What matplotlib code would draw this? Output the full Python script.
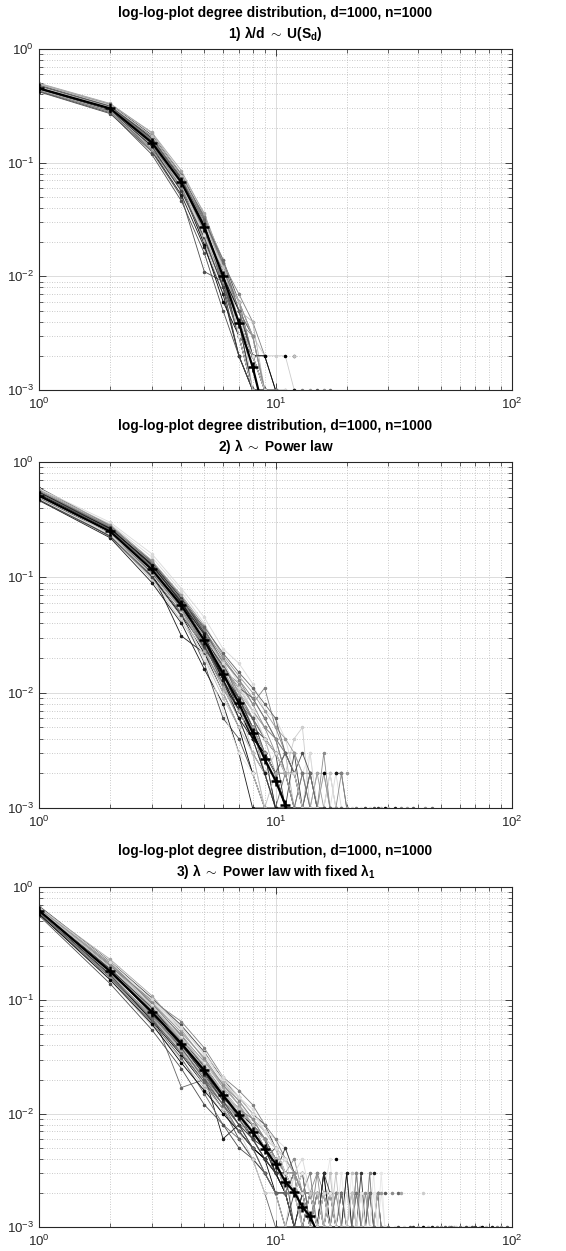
import numpy as np
import matplotlib
matplotlib.use("Agg")
import matplotlib.pyplot as plt
from matplotlib.ticker import LogLocator, NullFormatter

plt.rcParams['font.family'] = ['Liberation Sans', 'DejaVu Sans']
plt.rcParams['mathtext.fontset'] = 'custom'
plt.rcParams['mathtext.rm'] = 'Liberation Sans'
plt.rcParams['mathtext.it'] = 'Liberation Sans:italic'
plt.rcParams['mathtext.bf'] = 'Liberation Sans:bold'

N_NODES = 1000
TITLE_LINE1 = "log-log-plot degree distribution, d=1000, n=1000"
SUBTITLES = [
    r"1) $\mathregular{\lambda}$/d $\sim$ U(S$_{\mathbf{d}}$)",
    r"2) $\mathregular{\lambda}$ $\sim$ Power law",
    r"3) $\mathregular{\lambda}$ $\sim$ Power law with fixed $\mathregular{\lambda}_{\mathbf{1}}$",
]

# mean degree distribution (counts out of 1000), degrees 1,2,3,...
mean1 = [450, 300, 150, 67, 27, 10, 3.9, 1.6, 0.6]
mean2 = [510, 250, 117, 57, 28.4, 14.6, 8.1, 4.5, 2.66, 1.73, 1.07, 0.6]
mean3 = [620, 180, 79, 41.5, 24.1, 14.5, 9.7, 6.9, 4.9, 3.63, 2.5, 2.04, 1.5, 1.24, 0.9]

# individual samples (counts, degrees 1,2,3,...; 0 = degree absent)
samples1 = [
    [462, 308, 158, 72, 30, 12, 5, 2, 1],
    [440, 292, 146, 63, 24, 9, 3, 1],
    [485, 325, 175, 78, 33, 14, 6, 3, 1],
    [428, 282, 132, 56, 20, 7, 2, 1],
    [455, 312, 162, 74, 29, 11, 4, 2, 0, 1],
    [470, 298, 142, 60, 22, 9, 5, 3, 1, 1],
    [445, 288, 150, 66, 26, 10, 3, 1, 1],
    [500, 332, 182, 80, 36, 13, 4, 1],
    [420, 270, 125, 50, 11, 9, 3, 1],
    [452, 302, 156, 68, 31, 13, 7, 4, 2, 1],
    [460, 310, 152, 64, 25, 10, 5, 3, 2, 2, 2, 1],
    [448, 296, 148, 65, 27, 11, 4, 2, 1, 0, 0, 2],
    [438, 305, 160, 70, 28, 8, 2, 1],
    [475, 315, 165, 75, 34, 12, 6, 2, 1, 1],
    [430, 280, 138, 58, 23, 9, 4, 1, 1, 1, 1],
    [465, 300, 144, 62, 26, 12, 5, 3, 1],
    [458, 295, 155, 69, 32, 14, 5, 2, 1, 1],
    [442, 290, 140, 61, 19, 6, 3, 1],
    [490, 318, 170, 73, 30, 11, 4, 1, 0, 1],
    [436, 286, 135, 57, 21, 8, 3, 2, 1],
    [468, 306, 158, 71, 29, 12, 6, 3, 1, 0, 1],
    [452, 298, 150, 66, 25, 9, 3, 1, 0, 0, 0, 1],
    [478, 322, 168, 76, 31, 10, 5, 2, 1],
    [434, 284, 128, 52, 18, 7, 2, 1, 1],
    [495, 328, 185, 85, 35, 13, 5, 2, 1],
    [425, 275, 118, 46, 16, 5, 2, 1],
    [458, 300, 155, 70, 33, 11, 6, 2, 2, 1],
    [447, 294, 147, 64, 24, 12, 4, 3, 1],
    [482, 316, 164, 72, 28, 9, 4, 1],
    [433, 281, 128, 59, 26, 10, 6, 3, 1],
    [461, 309, 160, 75, 32, 13, 3, 2, 1],
    [451, 297, 143, 58, 21, 11, 5, 4, 1],
    [472, 311, 170, 78, 29, 8, 4, 2, 1, 1],
    [439, 288, 136, 63, 27, 12, 3, 1],
    [457, 303, 152, 67, 28, 10, 5, 2, 2, 1],
    [466, 299, 145, 60, 25, 9, 4, 3, 1, 1],
    [444, 291, 139, 56, 22, 8, 2, 1],
    [488, 320, 172, 77, 30, 12, 6, 1],
    [450, 305, 157, 71, 31, 14, 5, 2, 1],
    [463, 307, 149, 65, 23, 10, 4, 2, 1, 0, 1],
]
samples2 = [
    [540, 255, 125, 60, 30, 15, 9, 5, 3, 2, 1, 1],
    [480, 240, 105, 50, 24, 11, 6, 3, 2, 1],
    [600, 280, 135, 65, 35, 18, 10, 6, 4, 3, 2, 1, 1],
    [460, 230, 95, 42, 20, 9, 5, 3, 1],
    [520, 265, 120, 55, 27, 13, 8, 5, 3, 2, 3, 2, 1, 0, 1],
    [570, 290, 150, 75, 40, 20, 12, 7, 4, 2, 1],
    [490, 245, 110, 31, 22, 12, 7, 4, 2, 1],
    [530, 260, 118, 58, 29, 16, 9, 6, 3, 2, 1, 1, 2, 1],
    [505, 225, 100, 48, 18, 6, 4, 2, 1],
    [550, 270, 130, 62, 33, 19, 13, 8, 11, 5, 3, 2, 1],
    [515, 250, 115, 56, 28, 14, 7, 4, 2, 3, 2, 4, 5, 1, 0, 1],
    [495, 255, 122, 59, 26, 12, 6, 3, 2, 1, 1, 0, 0, 1],
    [560, 275, 128, 63, 31, 17, 10, 6, 4, 3, 2, 2, 1, 1, 2, 1, 2, 1],
    [470, 235, 108, 52, 25, 13, 7, 5, 3, 1, 2, 1],
    [525, 258, 112, 54, 30, 15, 9, 6, 4, 2, 3, 1, 2, 0, 1],
    [500, 248, 120, 61, 32, 16, 8, 4, 3, 2, 1, 1, 1],
    [535, 262, 126, 57, 27, 14, 8, 5, 3, 3, 2, 2, 2, 3, 1, 1, 2, 1, 1, 1],
    [485, 242, 104, 46, 22, 10, 5, 2, 1, 1],
    [545, 268, 132, 64, 34, 17, 11, 7, 5, 3, 2, 1, 0, 1],
    [510, 252, 116, 55, 29, 15, 9, 5, 2, 2, 1, 3, 1, 2, 1, 1, 0, 0, 1],
    [475, 238, 112, 53, 23, 12, 6, 4, 2, 1],
    [555, 272, 138, 68, 36, 18, 9, 5, 3, 2, 2, 1, 1, 1],
    [588, 300, 160, 80, 45, 24, 18, 12, 7, 6, 4, 2, 1, 3, 1, 2, 1, 2, 1],
    [465, 220, 90, 40, 16, 8, 3, 1, 1],
    [518, 246, 114, 51, 26, 14, 10, 7, 5, 4, 3, 3, 2, 1, 2, 2, 1],
    [528, 256, 119, 59, 30, 17, 11, 9, 6, 4, 2, 2, 3, 2, 1, 1, 0, 2, 2, 1],
    [505, 258, 124, 61, 35, 20, 13, 9, 6, 4, 3, 2, 1, 1],
    [545, 232, 98, 45, 21, 10, 5, 3, 2, 1],
    [490, 262, 132, 66, 33, 15, 7, 4, 3, 1, 1],
    [575, 285, 140, 70, 38, 21, 14, 10, 7, 5, 4, 3, 2, 2, 1, 2, 1],
    [512, 244, 111, 53, 26, 12, 9, 6, 4, 3, 2, 1, 2, 1, 1],
    [498, 250, 121, 60, 31, 19, 10, 5, 2, 2, 1],
    [538, 248, 109, 49, 24, 14, 8, 6, 3, 2, 3, 2, 1],
    [482, 236, 106, 51, 20, 7, 3, 2, 1],
    [522, 266, 127, 62, 28, 13, 7, 4, 3, 2, 1, 1],
    [562, 278, 133, 58, 27, 16, 12, 8, 5, 4, 2, 2, 1, 2, 1, 3, 1, 1, 2, 1],
    [470, 228, 101, 47, 25, 14, 9, 5, 4, 3, 1, 1],
    [508, 254, 117, 56, 29, 16, 8, 3, 1, 2, 1],
    [532, 261, 123, 63, 37, 22, 15, 11, 8, 6, 3, 2, 1, 2, 1],
    [495, 243, 113, 57, 30, 18, 11, 7, 4, 3, 2, 2, 1, 1, 1],
    [548, 264, 129, 60, 32, 13, 6, 4, 2, 1],
    [515, 249, 118, 52, 23, 11, 7, 5, 3, 2, 2, 1],
]
samples3 = [
    [640, 190, 85, 45, 26, 16, 11, 8, 6, 4, 3, 2, 2, 1, 1, 1],
    [600, 170, 72, 38, 21, 12, 8, 6, 4, 3, 2, 1, 1],
    [680, 220, 105, 60, 35, 20, 14, 10, 8, 5, 4, 3, 2, 2, 1, 3, 1, 2, 0, 1],
    [580, 150, 60, 30, 17, 10, 7, 5, 3, 2, 1, 1],
    [620, 185, 80, 17, 20, 14, 9, 6, 5, 4, 2, 3, 1, 2, 1, 0, 1],
    [650, 200, 95, 55, 30, 18, 12, 9, 7, 5, 4, 3, 3, 2, 2, 1, 1, 2, 1, 1, 0, 1, 2, 1, 3, 1],
    [610, 175, 78, 40, 22, 6, 8, 5, 4, 3, 2, 2, 1, 1],
    [630, 195, 90, 50, 28, 17, 10, 7, 5, 4, 3, 3, 2, 2, 2, 1, 2, 1, 1, 0, 0, 1],
    [590, 160, 68, 35, 19, 11, 6, 4, 3, 2, 1, 2, 1, 0, 1],
    [660, 205, 88, 46, 25, 15, 11, 7, 5, 4, 3, 2, 2, 1, 3, 2, 1, 2, 1, 3, 1, 2, 1, 1, 3, 1, 2, 1],
    [615, 178, 76, 42, 23, 14, 9, 8, 5, 3, 4, 2, 1, 2, 1, 1, 0, 1],
    [635, 188, 83, 44, 27, 15, 10, 6, 4, 5, 3, 2, 3, 1, 2, 1, 2, 0, 1, 1, 2, 1, 3, 1, 2, 1, 2, 1],
    [570, 165, 74, 39, 24, 13, 8, 7, 5, 3, 2, 1, 1, 1],
    [645, 192, 86, 48, 26, 16, 11, 9, 6, 4, 3, 3, 2, 2, 1, 2, 1, 1, 1, 0, 2, 1, 1],
    [605, 172, 70, 36, 20, 12, 9, 6, 4, 3, 2, 1, 2, 1, 1, 1],
    [625, 182, 81, 43, 24, 15, 10, 7, 6, 4, 2, 3, 2, 1, 1, 2, 1, 0, 1],
    [655, 210, 100, 52, 32, 20, 13, 9, 7, 6, 4, 3, 2, 3, 1, 2, 4, 1, 2, 1, 3, 1, 1, 2, 1, 3, 1, 2, 1],
    [598, 168, 66, 33, 18, 11, 7, 5, 4, 2, 2, 1, 1, 2, 1, 3, 1, 1],
    [640, 196, 92, 47, 29, 18, 12, 8, 6, 5, 3, 4, 2, 2, 3, 1, 2, 1, 2, 1, 1, 3, 1, 2, 1, 1, 2, 1, 1],
    [612, 176, 79, 41, 23, 13, 9, 6, 5, 3, 3, 2, 2, 1, 2, 1, 1, 1],
    [628, 186, 84, 45, 25, 16, 10, 7, 5, 4, 3, 2, 1, 2, 2, 1, 3, 1, 2, 2, 1, 1, 2, 1, 1, 1, 2],
    [585, 158, 64, 31, 15, 8, 6, 4, 2, 1, 1, 1],
    [668, 215, 98, 58, 33, 19, 14, 11, 7, 6, 5, 3, 4, 2, 1, 2, 2, 1, 1, 2, 1, 3, 1, 1],
    [618, 180, 77, 40, 24, 14, 10, 8, 6, 3, 2, 3, 1, 2, 1, 1, 2, 1, 1, 3, 1],
    [660, 230, 110, 55, 30, 17, 12, 8, 6, 4, 3, 2, 2, 1],
    [560, 140, 55, 25, 12, 8, 5, 4, 3, 2, 1, 1],
    [632, 200, 100, 65, 38, 21, 16, 12, 8, 6, 4, 3, 2, 3, 1, 2, 1, 2, 2, 1, 1, 3, 1],
    [600, 178, 82, 35, 18, 11, 7, 4, 2, 2, 1, 3, 1],
    [648, 188, 87, 42, 23, 14, 10, 8, 5, 3, 5, 3, 2, 2, 1, 3, 2, 1, 2, 1],
    [592, 162, 72, 37, 21, 13, 9, 7, 5, 4, 2, 3, 2, 1, 2, 1, 1],
    [672, 214, 94, 49, 26, 15, 9, 6, 4, 3, 2, 2, 3, 1, 1, 2, 1, 1, 2, 1, 1, 2, 1, 1, 2, 1],
    [616, 174, 80, 44, 25, 19, 13, 9, 7, 5, 4, 3, 2, 2, 1, 1],
    [608, 184, 75, 38, 20, 12, 8, 5, 3, 2, 2, 1, 1, 2, 1, 2, 1, 1, 1],
    [638, 196, 91, 47, 28, 16, 11, 7, 6, 5, 4, 2, 3, 2, 1, 1, 2, 1, 3, 1, 2, 1, 2, 1, 1, 2, 1, 3, 1],
    [578, 152, 62, 28, 16, 10, 7, 5, 4, 3, 2, 1, 2, 1],
    [655, 208, 96, 52, 31, 18, 13, 9, 6, 4, 3, 3, 2, 1, 2, 1],
    [622, 180, 78, 41, 22, 13, 8, 6, 4, 3, 3, 1, 2, 1, 1, 1],
    [642, 194, 88, 46, 27, 15, 11, 8, 5, 4, 2, 2, 1, 2, 2, 1, 1, 3, 1, 1, 2, 1, 1],
    [595, 166, 69, 34, 19, 12, 7, 5, 3, 2, 2, 1, 1],
    [665, 218, 102, 57, 34, 21, 14, 10, 7, 5, 3, 2, 2, 1, 1, 2, 1],
]

# isolated tail points (degree, count)
tail1_deg = [11, 12, 12, 13, 14, 15, 16, 17]
tail1_cnt = [2, 2, 1, 1, 1, 1, 1, 1]
tail2_deg = [16, 17, 18, 19, 20, 17, 18, 19, 20, 21, 22, 23, 24, 25, 26, 27, 28, 29, 30, 32, 34, 36, 38, 43, 46]
tail2_cnt = [2, 2, 2, 2, 2, 1, 1, 1, 1, 1, 1, 1, 1, 1, 1, 1, 1, 1, 1, 1, 1, 1, 1, 1, 1]
tail3_deg = [18, 21, 26, 27, 28, 29, 31, 33, 34, 42, 30, 32, 33, 35, 37, 38, 40, 42, 44, 46, 48, 50,
             52, 54, 55, 57, 58, 60, 62, 64, 66, 68, 70, 73, 75, 78, 82, 86, 90, 95]
tail3_cnt = [4, 3, 3, 2, 2, 2, 2, 2, 2, 2, 1, 1, 1, 1, 1, 1, 1, 1, 1, 1, 1, 1,
             1, 1, 1, 1, 1, 1, 1, 1, 1, 1, 1, 1, 1, 1, 1, 1, 1, 1]

gray_levels = [0.0, 0.55, 0.25, 0.75, 0.4, 0.85, 0.1, 0.65, 0.3, 0.5, 0.8, 0.2, 0.6, 0.45, 0.7, 0.35, 0.9]

fig = plt.figure(figsize=(5.66, 12.51), dpi=100)
H = 1251.0
W = 566.0
positions = [(39, 49, 390), (39, 462, 808), (39, 887, 1227)]

panels = [
    (samples1, mean1, tail1_deg, tail1_cnt),
    (samples2, mean2, tail2_deg, tail2_cnt),
    (samples3, mean3, tail3_deg, tail3_cnt),
]

for k, (samples, mean, tdeg, tcnt) in enumerate(panels):
    left, top, bot = positions[k]
    ax = fig.add_axes([left / W, 1 - bot / H, 473 / W, (bot - top) / H])
    ax.set_xscale('log')
    ax.set_yscale('log')
    for i, s in enumerate(samples):
        y = np.array(s, dtype=float) / N_NODES
        y[y <= 0] = np.nan
        x = np.arange(1, len(s) + 1)
        g = gray_levels[i % len(gray_levels)]
        ax.plot(x, y, '-', color=(g, g, g), lw=0.6, marker='.', ms=3, zorder=2)
    for j, (d, c) in enumerate(zip(tdeg, tcnt)):
        g = gray_levels[(j * 3) % len(gray_levels)]
        ax.plot([d], [c / N_NODES], '.', color=(g, g, g), ms=3, zorder=2)
    xm = np.arange(1, len(mean) + 1)
    ax.plot(xm, np.array(mean) / N_NODES, '-', color='black', lw=1.6, marker='+',
            ms=6.5, mew=1.8, zorder=5)
    ax.set_xlim(1, 100)
    ax.set_ylim(1e-3, 1)
    ax.xaxis.set_major_locator(LogLocator(base=10, numticks=10))
    ax.yaxis.set_major_locator(LogLocator(base=10, numticks=10))
    ax.xaxis.set_minor_locator(LogLocator(base=10, subs=np.arange(2, 10), numticks=20))
    ax.yaxis.set_minor_locator(LogLocator(base=10, subs=np.arange(2, 10), numticks=20))
    ax.xaxis.set_minor_formatter(NullFormatter())
    ax.yaxis.set_minor_formatter(NullFormatter())
    ax.grid(True, which='major', color='#dcdcdc', lw=0.7, ls='-', zorder=0)
    ax.grid(True, which='minor', color='#b8b8b8', lw=0.6, ls=(0, (1, 2)), zorder=0)
    ax.set_axisbelow(True)
    ax.tick_params(which='both', direction='in', top=True, right=True, colors='#262626',
                   labelsize=9.5, labelcolor='#262626')
    ax.tick_params(which='major', length=5, width=0.6)
    ax.tick_params(which='minor', length=3, width=0.5)
    ax.tick_params(axis='x', pad=5)
    for sp in ax.spines.values():
        sp.set_color('#262626')
        sp.set_linewidth(0.8)
    ax.set_title(TITLE_LINE1 + "\n" + SUBTITLES[k], fontsize=9.9, fontweight='bold',
                 pad=8, linespacing=1.3)

fig.savefig('out.png', dpi=100)
